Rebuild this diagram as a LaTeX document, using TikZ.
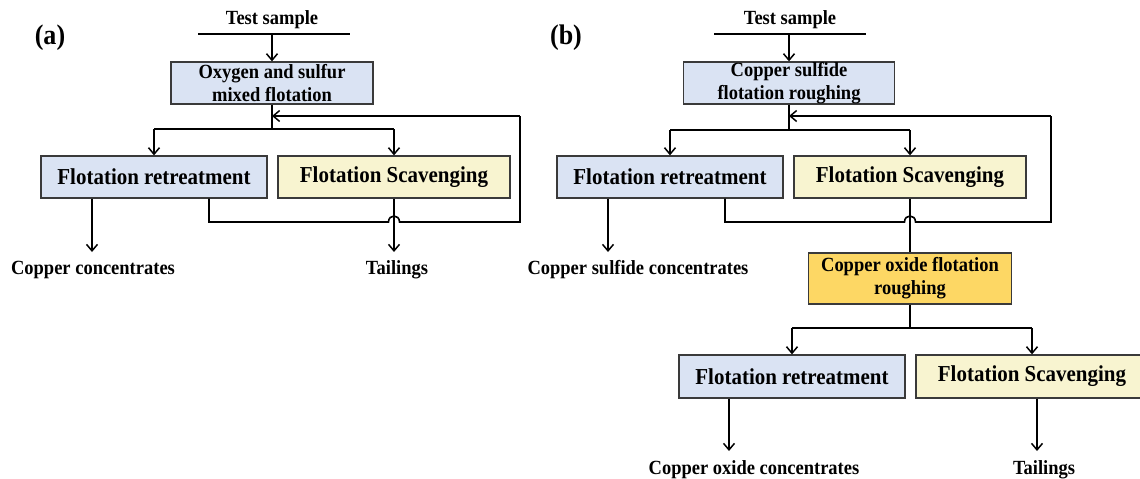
\documentclass[tikz,border=0pt]{standalone}
\usepackage{fontspec}
\setmainfont{Liberation Serif}[FakeStretch=0.92]
\usetikzlibrary{arrows.meta}
\definecolor{boxblue}{HTML}{DAE3F3}
\definecolor{boxyellow}{HTML}{F8F4D0}
\definecolor{boxgold}{HTML}{FDD764}
\definecolor{edgegray}{HTML}{3A3A3A}
\tikzset{
  flowline/.style={line width=1.6pt, draw=black},
  flowarrow/.style={flowline, -{Straight Barb[length=6.5pt,width=11pt,line width=1.5pt]}},
  procbox/.style={draw=edgegray, line width=1.3pt, rectangle, inner sep=0pt,
    align=center, font=\bfseries\fontsize{22.8}{26}\selectfont},
  smallbox/.style={procbox, font=\bfseries\fontsize{20.1}{23}\selectfont},
  bluebox/.style={fill=boxblue},
  yellowbox/.style={fill=boxyellow},
  goldbox/.style={fill=boxgold},
  lbl/.style={inner sep=0pt, font=\bfseries\fontsize{20.1}{23}\selectfont},
  panel/.style={inner sep=0pt, font=\bfseries\fontsize{28.3}{31}\selectfont},
}
\begin{document}
\begin{tikzpicture}[x=1pt,y=-1pt]
\useasboundingbox[fill=white] (0,0) rectangle (1140,479);

% ---------------- panel (a) ----------------
\node[panel] (pa) at (50,38) {(a)};
\node[lbl] (tsa) at (272,20) {Test sample};
\coordinate (tsaL) at (198,34);
\coordinate (tsaR) at (350,34);
\coordinate (tsaM) at (272,34);
\draw[flowline] (tsaL) -- (tsaR);
\node[smallbox,bluebox,minimum width=202pt,minimum height=42pt] (mixa) at (272,83)
  {Oxygen and sulfur\\mixed flotation};
\node[procbox,bluebox,minimum width=226pt,minimum height=42pt] (fra) at (154,177) {Flotation retreatment};
\node[procbox,yellowbox,minimum width=232pt,minimum height=42pt] (fsa) at (394,177) {Flotation Scavenging};
\draw[flowarrow] (tsaM) -- (mixa.north);
\coordinate (spa) at (272,129);
\coordinate (loopa) at (272,116);
\draw[flowline] (mixa.south) -- (spa);
\draw[flowline] (spa) -- (spa -| fra.north) ;
\draw[flowline] (spa) -- (spa -| fsa.north);
\draw[flowarrow] (spa -| fra.north) -- (fra.north);
\draw[flowarrow] (spa -| fsa.north) -- (fsa.north);
% return loop
\coordinate (rta) at (209,222);
\coordinate (rtaR) at (520,222);
\coordinate (hopaL) at (388.5,222);
\coordinate (hopaR) at (399.5,222);
\draw[flowline] (fra.south -| rta) -- (rta) -- (hopaL)
  .. controls (388.5,214) and (399.5,214) .. (hopaR) -- (rtaR) -- (rtaR |- loopa);
\draw[flowarrow] (rtaR |- loopa) -- (loopa);
% outputs
\node[lbl] (cca) at (93,270) {Copper concentrates};
\node[lbl] (taila) at (397,270) {Tailings};
\coordinate (outa1) at (92,252);
\coordinate (outa2) at (394,252);
\draw[flowarrow] (fra.south -| outa1) -- (outa1);
\draw[flowarrow] (fsa.south) -- (outa2);

% ---------------- panel (b) ----------------
\node[panel] (pb) at (566,38) {(b)};
\node[lbl] (tsb) at (790,20) {Test sample};
\coordinate (tsbL) at (714,34);
\coordinate (tsbR) at (866,34);
\coordinate (tsbM) at (789,34);
\draw[flowline] (tsbL) -- (tsbR);
\node[smallbox,bluebox,minimum width=211pt,minimum height=42pt] (csb) at (789,83)
  {Copper sulfide\\flotation roughing};
\node[procbox,bluebox,minimum width=226pt,minimum height=42pt] (frb) at (670,177) {Flotation retreatment};
\node[procbox,yellowbox,minimum width=232pt,minimum height=42pt] (fsb) at (910,177) {Flotation Scavenging};
\draw[flowarrow] (tsbM) -- (csb.north);
\coordinate (spb) at (789,130);
\coordinate (loopb) at (789,116);
\draw[flowline] (csb.south) -- (spb);
\draw[flowline] (spb) -- (spb -| frb.north);
\draw[flowline] (spb) -- (spb -| fsb.north);
\draw[flowarrow] (spb -| frb.north) -- (frb.north);
\draw[flowarrow] (spb -| fsb.north) -- (fsb.north);
% return loop
\coordinate (rtb) at (725,222);
\coordinate (rtbR) at (1051,222);
\coordinate (hopbL) at (904.5,222);
\coordinate (hopbR) at (915.5,222);
\draw[flowline] (frb.south -| rtb) -- (rtb) -- (hopbL)
  .. controls (904.5,214) and (915.5,214) .. (hopbR) -- (rtbR) -- (rtbR |- loopb);
\draw[flowarrow] (rtbR |- loopb) -- (loopb);
% sulfide output
\node[lbl] (csc) at (638,270) {Copper sulfide concentrates};
\coordinate (outb1) at (608,252);
\draw[flowarrow] (frb.south -| outb1) -- (outb1);
% copper oxide roughing
\node[smallbox,goldbox,minimum width=203pt,minimum height=51pt] (cox) at (910,278.5)
  {Copper oxide flotation\\roughing};
\draw[flowline] (fsb.south) -- (cox.north);
\node[procbox,bluebox,minimum width=226pt,minimum height=43pt] (frc) at (792,376.5) {Flotation retreatment};
\node[procbox,yellowbox,minimum width=232pt,minimum height=43pt] (fsc) at (1032,376.5) {Flotation Scavenging};
\coordinate (spc) at (910,328);
\draw[flowline] (cox.south) -- (spc);
\draw[flowline] (spc -| frc.north) -- (spc -| fsc.north);
\draw[flowarrow] (spc -| frc.north) -- (frc.north);
\draw[flowarrow] (spc -| fsc.north) -- (fsc.north);
% outputs
\node[lbl] (coc) at (754,470) {Copper oxide concentrates};
\node[lbl] (tailb) at (1044,470) {Tailings};
\coordinate (outc1) at (729,451);
\coordinate (outc2) at (1037,451);
\draw[flowarrow] (frc.south -| outc1) -- (outc1);
\draw[flowarrow] (fsc.south -| outc2) -- (outc2);
\end{tikzpicture}
\end{document}
